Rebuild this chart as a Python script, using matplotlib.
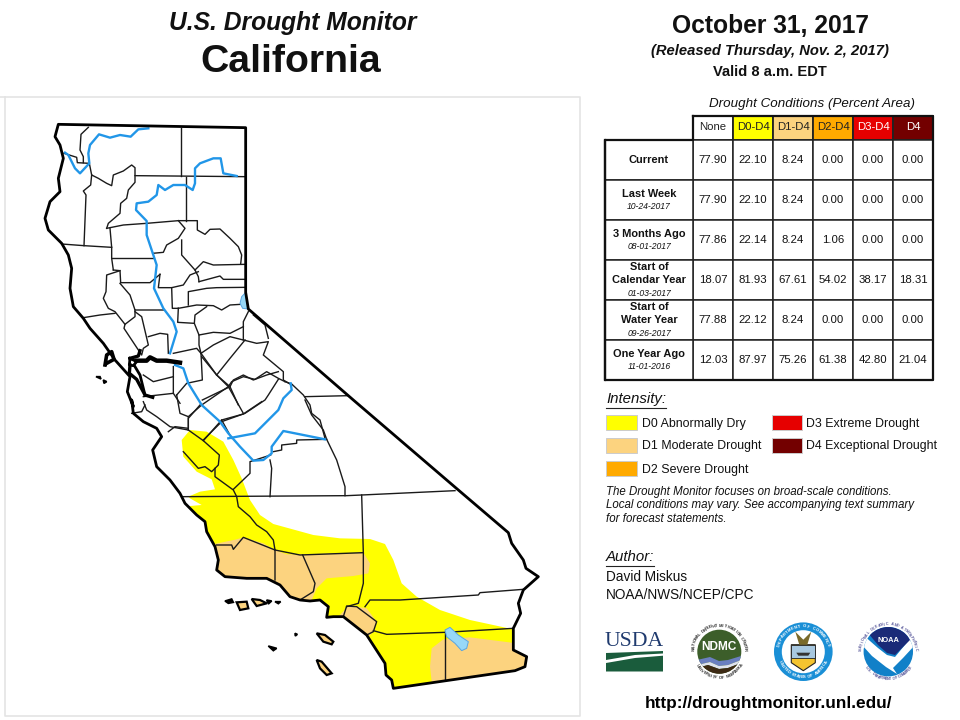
import numpy as np
import matplotlib
matplotlib.use("Agg")
import matplotlib.pyplot as plt
from matplotlib.patches import Polygon, Rectangle, Circle

plt.rcParams['font.family'] = ['Liberation Sans', 'DejaVu Sans']

# table values
columns = ['None', 'D0-D4', 'D1-D4', 'D2-D4', 'D3-D4', 'D4']
column_colors = ['#ffffff', '#ffff00', '#fcd37f', '#ffaa00', '#e60000', '#730000']
column_text = ['#222222', '#222222', '#222222', '#222222', '#ffffff', '#ffffff']
row_labels = [['Current'], ['Last Week'], ['3 Months Ago'], ['Start of', 'Calendar Year'],
              ['Start of', 'Water Year'], ['One Year Ago']]
row_dates = ['', '10-24-2017', '08-01-2017', '01-03-2017', '09-26-2017', '11-01-2016']
none_vals = [77.90, 77.90, 77.86, 18.07, 77.88, 12.03]
d0_vals = [22.10, 22.10, 22.14, 81.93, 22.12, 87.97]
d1_vals = [8.24, 8.24, 8.24, 67.61, 8.24, 75.26]
d2_vals = [0.00, 0.00, 1.06, 54.02, 0.00, 61.38]
d3_vals = [0.00, 0.00, 0.00, 38.17, 0.00, 42.80]
d4_vals = [0.00, 0.00, 0.00, 18.31, 0.00, 21.04]

# map shapes in a few sheets
def north(p):
    return [(x / 3, 95 + y / 3) for x, y in p]
def south(p):
    return [(100 + x / 3, 400 + y / 3) for x, y in p]
def mid(p):
    return [(130 + x / 3, 250 + y / 3) for x, y in p]
def bay(p):
    return [(90 + x / 3, 320 + y / 3) for x, y in p]

state_outline = north([(175, 88), (737, 98), (737, 592), (745, 642)]) + south([
    (760, 0), (1075, 270), (1225, 398), (1235, 430), (1270, 480), (1278, 505), (1315, 530), (1270, 570),
    (1255, 610), (1262, 640), (1240, 685), (1240, 750), (1280, 770), (1275, 800), (1245, 812), (880, 865),
    (875, 840), (858, 825), (855, 790), (800, 705), (730, 650), (700, 650), (680, 652), (685, 620), (660, 600),
    (630, 603), (600, 600), (570, 590), (540, 555), (500, 535), (440, 535), (375, 530), (350, 510), (355, 480),
    (345, 440), (320, 395), (315, 365), (290, 345), (255, 310), (240, 280), (210, 240), (170, 200), (158, 150),
    (185, 110), (170, 85), (130, 65), (100, 40), (95, 0)]) + bay([
    (130, 260), (112, 215), (120, 170), (75, 120), (40, 70), (0, 25)]) + north([
    (250, 670), (220, 635), (210, 580), (215, 520), (205, 480),
    (185, 445), (145, 405), (135, 370), (150, 320), (180, 290), (175, 250), (190, 190), (180, 150), (165, 125)])

north_counties = [
    [(265, 97), (243, 118), (240, 165), (250, 185), (250, 203)],
    [(192, 175), (230, 187), (232, 203), (268, 205)],
    [(268, 205), (275, 240), (295, 250), (320, 265), (335, 272), (340, 240), (370, 228), (395, 210), (405, 218), (405, 242), (737, 245)],
    [(543, 100), (543, 243)],
    [(557, 245), (557, 377)],
    [(275, 240), (272, 270), (250, 288), (258, 300), (252, 452)],
    [(185, 447), (252, 452), (335, 457)],
    [(405, 242), (405, 262), (385, 285), (380, 310), (362, 325), (360, 355), (325, 385), (320, 400)],
    [(320, 400), (370, 390), (440, 385), (535, 377), (592, 377), (592, 405), (615, 418), (630, 403), (660, 402), (690, 430), (715, 455), (725, 480), (722, 507)],
    [(585, 525), (610, 500), (640, 510), (737, 508)],
    [(330, 400), (335, 457), (335, 490), (340, 525)],
    [(335, 490), (460, 490)],
    [(535, 377), (555, 400), (535, 430), (500, 450), (490, 472), (458, 475)],
    [(545, 435), (545, 480), (585, 525), (595, 545), (597, 560)],
    [(340, 525), (360, 527), (362, 563), (450, 563), (480, 538)],
    [(360, 565), (390, 600), (405, 645), (490, 645)],
    [(360, 527), (320, 540), (318, 590), (310, 610), (325, 640), (345, 650), (375, 688), (405, 665), (405, 645)],
    [(250, 668), (300, 660), (345, 655)],
    [(375, 688), (372, 700), (425, 780), (430, 760), (445, 750), (425, 665), (405, 650)],
    [(445, 725), (480, 715), (503, 718), (505, 775)],
    [(480, 538), (475, 578), (515, 578), (550, 570), (570, 540), (595, 530)],
    [(515, 578), (517, 640), (535, 640)],
    [(597, 560), (660, 543), (670, 553), (737, 553)],
    [(565, 630), (565, 590), (620, 580), (650, 578), (737, 577)],
    [(535, 640), (590, 630), (640, 632), (665, 645), (690, 630), (722, 628)],
    [(535, 640), (533, 682), (583, 685), (597, 720), (597, 750), (603, 775), (607, 855), (560, 865), (530, 900)],
    [(583, 685), (585, 660), (620, 635)],
    [(597, 720), (640, 712), (690, 715), (730, 695)],
    [(745, 650), (730, 680), (730, 735), (690, 725), (640, 750), (603, 775)],
    [(730, 735), (770, 745), (805, 740), (790, 780), (850, 830), (850, 855), (875, 870)],
    [(760, 660), (795, 690), (805, 730)],
    [(735, 735), (690, 790), (650, 840)],
    [(603, 775), (650, 840), (690, 875)],
    [(607, 915), (690, 875), (700, 855), (730, 840), (760, 855), (800, 840), (835, 830)],
    [(690, 875), (715, 930)],
    [(430, 840), (460, 860), (520, 845)],
    [(520, 815), (520, 895), (430, 905)],
    [(520, 775), (590, 760), (603, 775)],
    [(520, 895), (540, 925)],
]
mid_counties = [
    [(215, 320), (260, 375), (295, 410), (340, 490)],
    [(175, 500), (215, 465), (295, 410), (305, 395), (340, 380), (375, 388), (410, 365), (445, 385), (465, 395)],
    [(445, 388), (415, 435), (405, 450), (345, 490), (275, 515), (220, 570)],
    [(465, 395), (485, 402), (520, 435), (540, 465), (545, 490), (570, 510), (585, 565)],
    [(525, 440), (655, 437)],
    [(40, 455), (50, 480), (80, 500), (120, 530), (175, 540)],
    [(140, 435), (150, 490), (175, 500), (175, 540)],
]
south_counties = [
    [(265, 90), (310, 122), (358, 165), (355, 195), (345, 205), (345, 230), (400, 270), (410, 290), (415, 320), (450, 350), (470, 375), (500, 395), (520, 420), (525, 450), (525, 540)],
    [(250, 155), (295, 205), (315, 200), (335, 215), (345, 205)],
    [(310, 122), (365, 60), (430, 42), (485, 5)],
    [(400, 268), (450, 220), (450, 185), (512, 165)],
    [(510, 180), (515, 205), (510, 290)],
    [(520, 155), (545, 150), (545, 135), (590, 130), (590, 120), (680, 118)],
    [(615, 0), (635, 45), (670, 90), (680, 118), (710, 180), (735, 260), (735, 287)],
    [(250, 290), (740, 287), (785, 285), (1065, 272)],
    [(785, 285), (790, 460), (790, 550), (775, 610), (740, 620)],
    [(525, 450), (600, 465), (790, 458)],
    [(608, 465), (645, 550), (640, 575), (600, 600)],
    [(730, 650), (740, 618), (770, 620), (830, 665), (820, 695), (800, 705)],
    [(1270, 568), (1140, 578), (1135, 585), (900, 600), (810, 600), (795, 620)],
    [(820, 692), (860, 703), (1035, 697), (1240, 685)],
    [(1035, 697), (1035, 840)],
    [(350, 435), (395, 435), (400, 448), (430, 412), (480, 432), (525, 450)],
    [(95, 40), (125, 35), (135, 15)],
    [(205, 95), (225, 80), (265, 85), (265, 55), (300, 15)],
    [(365, 60), (395, 115)],
]

d0_area = south([
    (245, 120), (270, 90), (320, 95), (370, 125), (400, 180), (425, 235), (450, 300), (480, 345), (520, 372),
    (640, 405), (720, 415), (810, 417), (855, 432), (880, 480), (905, 550), (950, 590), (1020, 630), (1110, 660),
    (1240, 688), (1300, 700), (1300, 880), (860, 880), (700, 680), (330, 440), (230, 320), (270, 318), (305, 315),
    (270, 295), (265, 290), (300, 275), (345, 268), (335, 238), (290, 215), (250, 170)])
d1_areas = [
    south([(330, 435), (410, 418), (430, 412), (490, 430), (525, 450), (560, 463), (605, 463), (790, 458), (810, 490),
           (805, 520), (760, 528), (680, 535), (650, 565), (635, 600), (600, 620), (500, 560), (370, 550), (330, 500)]),
    south([(715, 650), (745, 618), (770, 620), (800, 625), (830, 665), (820, 695), (800, 715)]),
    south([(995, 745), (1030, 718), (1110, 712), (1235, 728), (1300, 750), (1300, 820), (995, 845), (990, 800)]),
]
salton_sea = south([(1035, 690), (1050, 682), (1075, 705), (1105, 725), (1100, 745), (1085, 752), (1065, 730), (1040, 710)])
lake_tahoe = north([(737, 592), (725, 605), (720, 625), (728, 640), (745, 642), (740, 620)])

black_islands = [
    south([(375, 603), (395, 597), (400, 607), (385, 610)]),
    south([(500, 600), (515, 603), (505, 612)]),
    south([(525, 605), (542, 605), (535, 611)]),
    south([(585, 700), (592, 703), (586, 708)]),
    south([(505, 738), (530, 745), (520, 752)]),
    north([(288, 845), (300, 845), (303, 852)]),
    north([(310, 855), (320, 860), (312, 865)]),
]
orange_islands = [
    south([(410, 607), (440, 605), (445, 625), (420, 630)]),
    south([(455, 597), (480, 600), (500, 610), (470, 618)]),
    south([(650, 700), (675, 705), (700, 725), (695, 733), (670, 725)]),
    south([(650, 780), (665, 785), (695, 820), (680, 825), (660, 805)]),
]

rivers = [
    north([(445, 100), (415, 103), (392, 125), (360, 120), (330, 128), (297, 118), (270, 150), (265, 175), (268, 205), (240, 235), (225, 220), (205, 180), (195, 173)]),
    north([(710, 243), (670, 235), (662, 190), (640, 190), (600, 205), (585, 220), (585, 265), (578, 285), (555, 270), (520, 270), (495, 285), (475, 270), (470, 300), (445, 320), (410, 325), (408, 345), (440, 378), (440, 420), (455, 465), (470, 510), (462, 580), (490, 640), (520, 680), (530, 710), (510, 775)]),
    mid([(135, 345), (160, 355), (175, 400), (215, 465), (270, 515), (295, 550), (330, 590), (370, 632), (400, 630), (425, 610), (425, 590), (460, 543), (585, 568)]),
    mid([(295, 565), (375, 550), (415, 510), (445, 480), (460, 445), (485, 420), (482, 400)]),
]
# delta and bay shores with their line widths
bay_lines = [
    ([(140, 122), (170, 122), (180, 112), (200, 122), (230, 122), (270, 128)], 3.2),
    ([(120, 115), (145, 108), (150, 92)], 2.4),
    ([(120, 115), (118, 135), (130, 137), (140, 125), (120, 115)], 2.0),
    ([(120, 135), (118, 160), (140, 178), (165, 225), (188, 232)], 2.4),
    ([(135, 140), (150, 165), (165, 225)], 2.0),
    ([(45, 135), (50, 105), (65, 95), (72, 118), (50, 130)], 2.6),
]

legend_left = [('D0 Abnormally Dry', '#ffff00', 642), ('D1 Moderate Drought', '#fcd37f', 641.5), ('D2 Severe Drought', '#ffaa00', 642)]
legend_right = [('D3 Extreme Drought', '#e60000'), ('D4 Exceptional Drought', '#730000')]

fig = plt.figure(figsize=(9.6, 7.2), dpi=100)
ax = fig.add_axes([0, 0, 1, 1])
ax.set_xlim(0, 960)
ax.set_ylim(720, 0)
ax.axis('off')

def text(x, y, s, size, **kw):
    kw.setdefault('ha', 'center')
    kw.setdefault('va', 'center')
    kw.setdefault('color', '#111111')
    return ax.text(x, y, s, fontsize=size, **kw)

# titles
text(292.5, 23, 'U.S. Drought Monitor', 17.7, style='italic', weight='bold')
text(291, 62, 'California', 28.3, weight='bold')
text(770, 26, 'October 31, 2017', 17.7, weight='bold')
text(770, 50.5, '(Released Thursday, Nov. 2, 2017)', 10.6, style='italic', weight='bold')
text(770, 72, 'Valid 8 a.m. EDT', 10.6, weight='bold')

# map frame
ax.plot([0, 580, 580, 5, 5], [97, 97, 716, 716, 97], color='#e4e4e4', lw=1.2)

# drought areas, clipped on the state line
state_patch = Polygon(state_outline, closed=True, fc='white', ec='none', zorder=1)
ax.add_patch(state_patch)
for poly, color in [(d0_area, '#ffff00')] + [(a, '#fcd37f') for a in d1_areas]:
    p = Polygon(poly, closed=True, fc=color, ec='none', zorder=2)
    ax.add_patch(p)
    p.set_clip_path(state_patch)

for lines, conv in [(north_counties, north), (mid_counties, mid), (south_counties, south)]:
    for line in lines:
        xs, ys = zip(*conv(line))
        ax.plot(xs, ys, color='#1a1a1a', lw=1.0, zorder=3)

for poly in (salton_sea, lake_tahoe):
    ax.add_patch(Polygon(poly, closed=True, fc='#97d8f7', ec='#5aa5e0', lw=0.7, zorder=4))
for line in rivers:
    xs, ys = zip(*line)
    ax.plot(xs, ys, color='#2196e8', lw=1.7, zorder=4)
for line, width in bay_lines:
    xs, ys = zip(*bay(line))
    ax.plot(xs, ys, color='black', lw=width, zorder=5)
ax.add_patch(Polygon(state_outline, closed=True, fc='none', ec='black', lw=2.0, joinstyle='round', zorder=5))
for poly in black_islands:
    ax.add_patch(Polygon(poly, closed=True, fc='black', ec='black', lw=1.2, zorder=5))
for poly in orange_islands:
    ax.add_patch(Polygon(poly, closed=True, fc='#fcd37f', ec='black', lw=1.6, zorder=5))

# table
col_x = [693, 733, 773, 813, 853, 893, 933]
row_y = [140, 180, 220, 260, 300, 340, 380]
table_vals = [none_vals, d0_vals, d1_vals, d2_vals, d3_vals, d4_vals]
text(812, 104, 'Drought Conditions (Percent Area)', 9.6, style='italic')
for i, name in enumerate(columns):
    ax.add_patch(Rectangle((col_x[i], 116), 40, 24, fc=column_colors[i], ec='#222222', lw=1.3, zorder=6))
    text(col_x[i] + 20, 127.5, name, 8.2, color=column_text[i], zorder=7)
    for j, v in enumerate(table_vals[i]):
        ax.add_patch(Rectangle((col_x[i], row_y[j]), 40, 40, fc='white', ec='#222222', lw=1.1, zorder=6))
        text(col_x[i] + 20, row_y[j] + 20, f'{v:.2f}', 8.2, zorder=7)
for j, lab in enumerate(row_labels):
    ax.add_patch(Rectangle((605, row_y[j]), 88, 40, fc='white', ec='#222222', lw=1.1, zorder=6))
    cy = row_y[j] + 20
    n = len(lab) + (1 if row_dates[j] else 0)
    top = cy - (n - 1) * 6.3
    for k, s in enumerate(lab):
        text(649, top + k * 12.6, s, 7.9, weight='bold', zorder=7)
    if row_dates[j]:
        text(649, top + len(lab) * 13, row_dates[j], 6.2, style='italic', zorder=7)
ax.plot([605, 605, 693, 693], [380, 140, 140, 116], color='#111111', lw=1.6, zorder=8)
ax.plot([693, 933, 933, 605, 605], [116, 116, 380, 380, 140], color='#111111', lw=1.6, zorder=8)

# legend
def underlined(x, y, s, size):
    t = text(x, y, s, size, ha='left', style='italic')
    bb = t.get_window_extent(fig.canvas.get_renderer())
    ax.plot([x, x + bb.width], [y + 8.5, y + 8.5], color='#222222', lw=0.8)

underlined(606, 399, 'Intensity:', 10.8)
for i, (label, color, tx) in enumerate(legend_left):
    ax.add_patch(Rectangle((606, 415 + 23 * i), 31, 15, fc=color, ec='#cccccc', lw=0.7))
    text(tx, 423.5 + 23 * i, label, 8.9, ha='left')
for i, (label, color) in enumerate(legend_right):
    ax.add_patch(Rectangle((772, 415 + 23 * i), 30, 15, fc=color, ec='#cccccc', lw=0.7))
    text(806, 423.5 + 23 * i, label, 8.9, ha='left')
note = ['The Drought Monitor focuses on broad-scale conditions.',
        'Local conditions may vary. See accompanying text summary',
        'for forecast statements.']
for i, s in enumerate(note):
    text(606, 492 + 13.4 * i, s, 8.3, ha='left', style='italic')
underlined(606, 557, 'Author:', 10.8)
text(606, 577, 'David Miskus', 9.8, ha='left')
text(606, 595, 'NOAA/NWS/NCEP/CPC', 9.8, ha='left')
text(769, 703.5, 'http://droughtmonitor.unl.edu/', 12.45, weight='bold', color='black')

# agency seals
def ring_text(cx, cy, r, s, start, end, size, color='#333333'):
    for ch, a in zip(s, np.linspace(start, end, len(s))):
        rad = np.deg2rad(a)
        rot = a - 90 if np.sin(rad) > 0 else a + 90
        text(cx + r * np.cos(rad), cy - r * np.sin(rad), ch, size, rotation=rot, color=color, weight='bold', zorder=9)

def clipped(points, color, clip, z=8):
    p = Polygon(points, closed=True, fc=color, ec='none', zorder=z)
    ax.add_patch(p)
    p.set_clip_path(clip)

# USDA
text(634.5, 641, 'USDA', 15.6, family='Liberation Serif', color='#1f3a6e')
ax.add_patch(Polygon([(606, 663), (635, 658), (663, 655.7), (663, 671.5), (606, 671.5)], fc='#1a5c3c', ec='none'))
ax.add_patch(Polygon([(606, 653), (663, 651), (663, 653.5), (635, 655), (606, 660)], fc='#1a5c3c', ec='none'))

# NDMC
cx, cy = 719.3, 651.7
disc = Circle((cx, cy), 22, fc='#3c5e2a', ec='none', zorder=7)
ax.add_patch(disc)
clipped([(697, 660), (710, 657), (719, 661), (728, 660), (741, 656), (741, 660), (728, 665), (719, 666), (710, 662), (697, 665)], '#6a7fc0', disc)
clipped([(697, 665), (710, 662), (719, 666), (728, 665), (741, 660), (741, 663), (728, 668), (719, 669), (708, 665), (697, 668)], '#dfe3ee', disc)
clipped([(697, 668), (708, 665), (719, 669), (728, 668), (741, 663), (741, 676), (697, 676)], '#3d2a14', disc)
text(cx, 646.7, 'NDMC', 8.6, color='white', weight='bold', zorder=9)
ring_text(cx, cy, 26, 'NATIONAL DROUGHT MITIGATION CENTER', 175, 5, 3)
ring_text(cx, cy, 26, 'UNIVERSITY OF NEBRASKA', 212, 328, 3)

# Commerce
cx, cy = 803.3, 651.7
ax.add_patch(Circle((cx, cy), 29.3, fc='#1a8fd6', ec='none', zorder=7))
ax.add_patch(Circle((cx, cy), 21.5, fc='white', ec='none', zorder=8))
ax.add_patch(Polygon([(cx - 12, cy - 7), (cx + 12, cy - 7), (cx + 12, cy + 11), (cx, cy + 19), (cx - 12, cy + 11)], fc='#f4c430', ec='#222222', lw=0.8, zorder=9))
ax.add_patch(Rectangle((cx - 12, cy - 7), 24, 13, fc='#a8c8e0', ec='#222222', lw=0.6, zorder=9))
ax.add_patch(Polygon([(cx - 7, cy + 1), (cx + 7, cy + 1), (cx + 5, cy + 4), (cx - 5, cy + 4)], fc='#333333', ec='none', zorder=10))
ax.add_patch(Polygon([(cx - 8, cy - 20), (cx, cy - 12), (cx + 8, cy - 20), (cx + 4, cy - 7), (cx - 4, cy - 7)], fc='#7a6a2a', ec='none', zorder=9))
ring_text(cx, cy, 25.3, 'DEPARTMENT OF COMMERCE', 165, 15, 3, color='white')
ring_text(cx, cy, 25.3, 'UNITED STATES OF AMERICA', 205, 335, 3, color='white')

# NOAA
cx, cy = 888.3, 651.7
noaa_disc = Circle((cx, cy), 24.7, fc='#1180c8', ec='none', zorder=7)
ax.add_patch(noaa_disc)
clipped([(862, 634), (878, 648), (887, 655), (895, 657), (914, 634), (915, 645), (903, 658), (893, 668), (897, 674), (886, 667), (872, 656), (862, 645)], 'white', noaa_disc)
clipped([(868, 633), (888, 625), (908, 633), (910, 640), (902, 648), (895, 655), (887, 653), (878, 645)], '#1a2a78', noaa_disc, z=8.5)
text(cx, 640, 'NOAA', 5.4, color='white', weight='bold', zorder=9)
ring_text(cx, cy, 27.3, 'NATIONAL OCEANIC AND ATMOSPHERIC', 175, 5, 2.6, color='#555599')
ring_text(cx, cy, 27.3, 'U.S. DEPARTMENT OF COMMERCE', 215, 325, 2.6, color='#555599')

fig.savefig('out.png', dpi=100)
